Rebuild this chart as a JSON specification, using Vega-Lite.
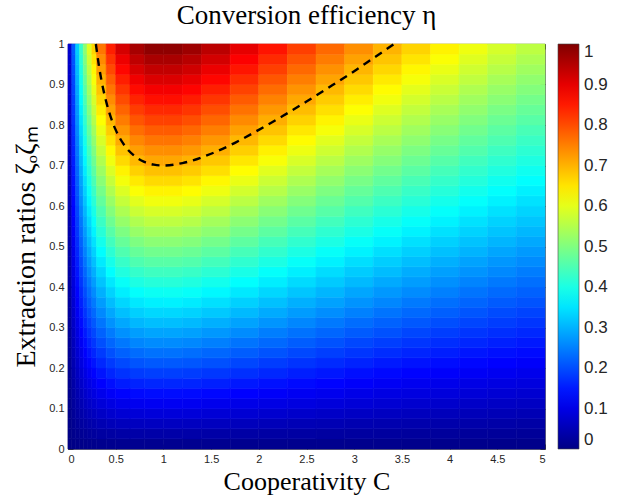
{
  "$schema": "https://vega.github.io/schema/vega-lite/v6.json",
  "width": 477,
  "height": 405,
  "autosize": {"type": "none"},
  "padding": {"left": 68, "top": 44, "right": 73, "bottom": 53},
  "background": "white",
  "view": {"stroke": "#262626", "strokeWidth": 0.8},
  "title": {"text": "Conversion efficiency η", "font": "Liberation Serif", "fontSize": 27, "fontWeight": "normal", "color": "black", "offset": 8, "anchor": "middle"},
  "config": {
    "axis": {"labelFont": "Liberation Sans", "labelFontSize": 11, "labelColor": "#262626", "domain": false, "grid": false, "tickColor": "#262626", "tickSize": -5, "tickWidth": 0.8, "titleFont": "Liberation Serif", "titleFontWeight": "normal", "titleColor": "black"},
    "legend": {"labelFont": "Liberation Sans", "labelFontSize": 17, "labelColor": "#262626"}
  },
  "datasets": {
    "grid": [
{"c":0,"c2":0.04,"z":0,"z2":0.025,"eta":0.001},{"c":0,"c2":0.04,"z":0.025,"z2":0.05,"eta":0.003},{"c":0,"c2":0.04,"z":0.05,"z2":0.075,"eta":0.005},{"c":0,"c2":0.04,"z":0.075,"z2":0.1,"eta":0.007},{"c":0,"c2":0.04,"z":0.1,"z2":0.125,"eta":0.009},{"c":0,"c2":0.04,"z":0.125,"z2":0.15,"eta":0.011},{"c":0,"c2":0.04,"z":0.15,"z2":0.175,"eta":0.012},{"c":0,"c2":0.04,"z":0.175,"z2":0.2,"eta":0.014},{"c":0,"c2":0.04,"z":0.2,"z2":0.225,"eta":0.016},{"c":0,"c2":0.04,"z":0.225,"z2":0.25,"eta":0.018},{"c":0,"c2":0.04,"z":0.25,"z2":0.275,"eta":0.02},{"c":0,"c2":0.04,"z":0.275,"z2":0.3,"eta":0.022},{"c":0,"c2":0.04,"z":0.3,"z2":0.325,"eta":0.024},{"c":0,"c2":0.04,"z":0.325,"z2":0.35,"eta":0.026},{"c":0,"c2":0.04,"z":0.35,"z2":0.375,"eta":0.028},{"c":0,"c2":0.04,"z":0.375,"z2":0.4,"eta":0.03},{"c":0,"c2":0.04,"z":0.4,"z2":0.425,"eta":0.032},{"c":0,"c2":0.04,"z":0.425,"z2":0.45,"eta":0.034},{"c":0,"c2":0.04,"z":0.45,"z2":0.475,"eta":0.036},{"c":0,"c2":0.04,"z":0.475,"z2":0.5,"eta":0.037},{"c":0,"c2":0.04,"z":0.5,"z2":0.525,"eta":0.039},{"c":0,"c2":0.04,"z":0.525,"z2":0.55,"eta":0.041},{"c":0,"c2":0.04,"z":0.55,"z2":0.575,"eta":0.043},{"c":0,"c2":0.04,"z":0.575,"z2":0.6,"eta":0.045},{"c":0,"c2":0.04,"z":0.6,"z2":0.625,"eta":0.047},{"c":0,"c2":0.04,"z":0.625,"z2":0.65,"eta":0.049},{"c":0,"c2":0.04,"z":0.65,"z2":0.675,"eta":0.051},{"c":0,"c2":0.04,"z":0.675,"z2":0.7,"eta":0.053},{"c":0,"c2":0.04,"z":0.7,"z2":0.725,"eta":0.055},{"c":0,"c2":0.04,"z":0.725,"z2":0.75,"eta":0.057},{"c":0,"c2":0.04,"z":0.75,"z2":0.775,"eta":0.059},{"c":0,"c2":0.04,"z":0.775,"z2":0.8,"eta":0.061},{"c":0,"c2":0.04,"z":0.8,"z2":0.825,"eta":0.062},{"c":0,"c2":0.04,"z":0.825,"z2":0.85,"eta":0.064},{"c":0,"c2":0.04,"z":0.85,"z2":0.875,"eta":0.066},{"c":0,"c2":0.04,"z":0.875,"z2":0.9,"eta":0.068},{"c":0,"c2":0.04,"z":0.9,"z2":0.925,"eta":0.07},{"c":0,"c2":0.04,"z":0.925,"z2":0.95,"eta":0.072},{"c":0,"c2":0.04,"z":0.95,"z2":0.975,"eta":0.074},{"c":0,"c2":0.04,"z":0.975,"z2":1,"eta":0.076},
{"c":0.04,"c2":0.08,"z":0,"z2":0.025,"eta":0.003},{"c":0.04,"c2":0.08,"z":0.025,"z2":0.05,"eta":0.008},{"c":0.04,"c2":0.08,"z":0.05,"z2":0.075,"eta":0.013},{"c":0.04,"c2":0.08,"z":0.075,"z2":0.1,"eta":0.019},{"c":0.04,"c2":0.08,"z":0.1,"z2":0.125,"eta":0.024},{"c":0.04,"c2":0.08,"z":0.125,"z2":0.15,"eta":0.029},{"c":0.04,"c2":0.08,"z":0.15,"z2":0.175,"eta":0.035},{"c":0.04,"c2":0.08,"z":0.175,"z2":0.2,"eta":0.04},{"c":0.04,"c2":0.08,"z":0.2,"z2":0.225,"eta":0.045},{"c":0.04,"c2":0.08,"z":0.225,"z2":0.25,"eta":0.051},{"c":0.04,"c2":0.08,"z":0.25,"z2":0.275,"eta":0.056},{"c":0.04,"c2":0.08,"z":0.275,"z2":0.3,"eta":0.061},{"c":0.04,"c2":0.08,"z":0.3,"z2":0.325,"eta":0.067},{"c":0.04,"c2":0.08,"z":0.325,"z2":0.35,"eta":0.072},{"c":0.04,"c2":0.08,"z":0.35,"z2":0.375,"eta":0.077},{"c":0.04,"c2":0.08,"z":0.375,"z2":0.4,"eta":0.083},{"c":0.04,"c2":0.08,"z":0.4,"z2":0.425,"eta":0.088},{"c":0.04,"c2":0.08,"z":0.425,"z2":0.45,"eta":0.093},{"c":0.04,"c2":0.08,"z":0.45,"z2":0.475,"eta":0.099},{"c":0.04,"c2":0.08,"z":0.475,"z2":0.5,"eta":0.104},{"c":0.04,"c2":0.08,"z":0.5,"z2":0.525,"eta":0.109},{"c":0.04,"c2":0.08,"z":0.525,"z2":0.55,"eta":0.115},{"c":0.04,"c2":0.08,"z":0.55,"z2":0.575,"eta":0.12},{"c":0.04,"c2":0.08,"z":0.575,"z2":0.6,"eta":0.125},{"c":0.04,"c2":0.08,"z":0.6,"z2":0.625,"eta":0.131},{"c":0.04,"c2":0.08,"z":0.625,"z2":0.65,"eta":0.136},{"c":0.04,"c2":0.08,"z":0.65,"z2":0.675,"eta":0.142},{"c":0.04,"c2":0.08,"z":0.675,"z2":0.7,"eta":0.147},{"c":0.04,"c2":0.08,"z":0.7,"z2":0.725,"eta":0.152},{"c":0.04,"c2":0.08,"z":0.725,"z2":0.75,"eta":0.158},{"c":0.04,"c2":0.08,"z":0.75,"z2":0.775,"eta":0.163},{"c":0.04,"c2":0.08,"z":0.775,"z2":0.8,"eta":0.168},{"c":0.04,"c2":0.08,"z":0.8,"z2":0.825,"eta":0.174},{"c":0.04,"c2":0.08,"z":0.825,"z2":0.85,"eta":0.179},{"c":0.04,"c2":0.08,"z":0.85,"z2":0.875,"eta":0.184},{"c":0.04,"c2":0.08,"z":0.875,"z2":0.9,"eta":0.19},{"c":0.04,"c2":0.08,"z":0.9,"z2":0.925,"eta":0.195},{"c":0.04,"c2":0.08,"z":0.925,"z2":0.95,"eta":0.2},{"c":0.04,"c2":0.08,"z":0.95,"z2":0.975,"eta":0.206},{"c":0.04,"c2":0.08,"z":0.975,"z2":1,"eta":0.211},
{"c":0.08,"c2":0.12,"z":0,"z2":0.025,"eta":0.004},{"c":0.08,"c2":0.12,"z":0.025,"z2":0.05,"eta":0.012},{"c":0.08,"c2":0.12,"z":0.05,"z2":0.075,"eta":0.021},{"c":0.08,"c2":0.12,"z":0.075,"z2":0.1,"eta":0.029},{"c":0.08,"c2":0.12,"z":0.1,"z2":0.125,"eta":0.037},{"c":0.08,"c2":0.12,"z":0.125,"z2":0.15,"eta":0.045},{"c":0.08,"c2":0.12,"z":0.15,"z2":0.175,"eta":0.054},{"c":0.08,"c2":0.12,"z":0.175,"z2":0.2,"eta":0.062},{"c":0.08,"c2":0.12,"z":0.2,"z2":0.225,"eta":0.07},{"c":0.08,"c2":0.12,"z":0.225,"z2":0.25,"eta":0.079},{"c":0.08,"c2":0.12,"z":0.25,"z2":0.275,"eta":0.087},{"c":0.08,"c2":0.12,"z":0.275,"z2":0.3,"eta":0.095},{"c":0.08,"c2":0.12,"z":0.3,"z2":0.325,"eta":0.103},{"c":0.08,"c2":0.12,"z":0.325,"z2":0.35,"eta":0.112},{"c":0.08,"c2":0.12,"z":0.35,"z2":0.375,"eta":0.12},{"c":0.08,"c2":0.12,"z":0.375,"z2":0.4,"eta":0.128},{"c":0.08,"c2":0.12,"z":0.4,"z2":0.425,"eta":0.136},{"c":0.08,"c2":0.12,"z":0.425,"z2":0.45,"eta":0.145},{"c":0.08,"c2":0.12,"z":0.45,"z2":0.475,"eta":0.153},{"c":0.08,"c2":0.12,"z":0.475,"z2":0.5,"eta":0.161},{"c":0.08,"c2":0.12,"z":0.5,"z2":0.525,"eta":0.169},{"c":0.08,"c2":0.12,"z":0.525,"z2":0.55,"eta":0.178},{"c":0.08,"c2":0.12,"z":0.55,"z2":0.575,"eta":0.186},{"c":0.08,"c2":0.12,"z":0.575,"z2":0.6,"eta":0.194},{"c":0.08,"c2":0.12,"z":0.6,"z2":0.625,"eta":0.202},{"c":0.08,"c2":0.12,"z":0.625,"z2":0.65,"eta":0.211},{"c":0.08,"c2":0.12,"z":0.65,"z2":0.675,"eta":0.219},{"c":0.08,"c2":0.12,"z":0.675,"z2":0.7,"eta":0.227},{"c":0.08,"c2":0.12,"z":0.7,"z2":0.725,"eta":0.236},{"c":0.08,"c2":0.12,"z":0.725,"z2":0.75,"eta":0.244},{"c":0.08,"c2":0.12,"z":0.75,"z2":0.775,"eta":0.252},{"c":0.08,"c2":0.12,"z":0.775,"z2":0.8,"eta":0.26},{"c":0.08,"c2":0.12,"z":0.8,"z2":0.825,"eta":0.269},{"c":0.08,"c2":0.12,"z":0.825,"z2":0.85,"eta":0.277},{"c":0.08,"c2":0.12,"z":0.85,"z2":0.875,"eta":0.285},{"c":0.08,"c2":0.12,"z":0.875,"z2":0.9,"eta":0.293},{"c":0.08,"c2":0.12,"z":0.9,"z2":0.925,"eta":0.302},{"c":0.08,"c2":0.12,"z":0.925,"z2":0.95,"eta":0.31},{"c":0.08,"c2":0.12,"z":0.95,"z2":0.975,"eta":0.318},{"c":0.08,"c2":0.12,"z":0.975,"z2":1,"eta":0.326},
{"c":0.12,"c2":0.16,"z":0,"z2":0.025,"eta":0.005},{"c":0.12,"c2":0.16,"z":0.025,"z2":0.05,"eta":0.016},{"c":0.12,"c2":0.16,"z":0.05,"z2":0.075,"eta":0.027},{"c":0.12,"c2":0.16,"z":0.075,"z2":0.1,"eta":0.038},{"c":0.12,"c2":0.16,"z":0.1,"z2":0.125,"eta":0.048},{"c":0.12,"c2":0.16,"z":0.125,"z2":0.15,"eta":0.059},{"c":0.12,"c2":0.16,"z":0.15,"z2":0.175,"eta":0.07},{"c":0.12,"c2":0.16,"z":0.175,"z2":0.2,"eta":0.081},{"c":0.12,"c2":0.16,"z":0.2,"z2":0.225,"eta":0.092},{"c":0.12,"c2":0.16,"z":0.225,"z2":0.25,"eta":0.102},{"c":0.12,"c2":0.16,"z":0.25,"z2":0.275,"eta":0.113},{"c":0.12,"c2":0.16,"z":0.275,"z2":0.3,"eta":0.124},{"c":0.12,"c2":0.16,"z":0.3,"z2":0.325,"eta":0.135},{"c":0.12,"c2":0.16,"z":0.325,"z2":0.35,"eta":0.145},{"c":0.12,"c2":0.16,"z":0.35,"z2":0.375,"eta":0.156},{"c":0.12,"c2":0.16,"z":0.375,"z2":0.4,"eta":0.167},{"c":0.12,"c2":0.16,"z":0.4,"z2":0.425,"eta":0.178},{"c":0.12,"c2":0.16,"z":0.425,"z2":0.45,"eta":0.189},{"c":0.12,"c2":0.16,"z":0.45,"z2":0.475,"eta":0.199},{"c":0.12,"c2":0.16,"z":0.475,"z2":0.5,"eta":0.21},{"c":0.12,"c2":0.16,"z":0.5,"z2":0.525,"eta":0.221},{"c":0.12,"c2":0.16,"z":0.525,"z2":0.55,"eta":0.232},{"c":0.12,"c2":0.16,"z":0.55,"z2":0.575,"eta":0.242},{"c":0.12,"c2":0.16,"z":0.575,"z2":0.6,"eta":0.253},{"c":0.12,"c2":0.16,"z":0.6,"z2":0.625,"eta":0.264},{"c":0.12,"c2":0.16,"z":0.625,"z2":0.65,"eta":0.275},{"c":0.12,"c2":0.16,"z":0.65,"z2":0.675,"eta":0.285},{"c":0.12,"c2":0.16,"z":0.675,"z2":0.7,"eta":0.296},{"c":0.12,"c2":0.16,"z":0.7,"z2":0.725,"eta":0.307},{"c":0.12,"c2":0.16,"z":0.725,"z2":0.75,"eta":0.318},{"c":0.12,"c2":0.16,"z":0.75,"z2":0.775,"eta":0.329},{"c":0.12,"c2":0.16,"z":0.775,"z2":0.8,"eta":0.339},{"c":0.12,"c2":0.16,"z":0.8,"z2":0.825,"eta":0.35},{"c":0.12,"c2":0.16,"z":0.825,"z2":0.85,"eta":0.361},{"c":0.12,"c2":0.16,"z":0.85,"z2":0.875,"eta":0.372},{"c":0.12,"c2":0.16,"z":0.875,"z2":0.9,"eta":0.382},{"c":0.12,"c2":0.16,"z":0.9,"z2":0.925,"eta":0.393},{"c":0.12,"c2":0.16,"z":0.925,"z2":0.95,"eta":0.404},{"c":0.12,"c2":0.16,"z":0.95,"z2":0.975,"eta":0.415},{"c":0.12,"c2":0.16,"z":0.975,"z2":1,"eta":0.426},
{"c":0.16,"c2":0.2,"z":0,"z2":0.025,"eta":0.006},{"c":0.16,"c2":0.2,"z":0.025,"z2":0.05,"eta":0.019},{"c":0.16,"c2":0.2,"z":0.05,"z2":0.075,"eta":0.032},{"c":0.16,"c2":0.2,"z":0.075,"z2":0.1,"eta":0.045},{"c":0.16,"c2":0.2,"z":0.1,"z2":0.125,"eta":0.058},{"c":0.16,"c2":0.2,"z":0.125,"z2":0.15,"eta":0.071},{"c":0.16,"c2":0.2,"z":0.15,"z2":0.175,"eta":0.084},{"c":0.16,"c2":0.2,"z":0.175,"z2":0.2,"eta":0.097},{"c":0.16,"c2":0.2,"z":0.2,"z2":0.225,"eta":0.11},{"c":0.16,"c2":0.2,"z":0.225,"z2":0.25,"eta":0.123},{"c":0.16,"c2":0.2,"z":0.25,"z2":0.275,"eta":0.136},{"c":0.16,"c2":0.2,"z":0.275,"z2":0.3,"eta":0.149},{"c":0.16,"c2":0.2,"z":0.3,"z2":0.325,"eta":0.162},{"c":0.16,"c2":0.2,"z":0.325,"z2":0.35,"eta":0.175},{"c":0.16,"c2":0.2,"z":0.35,"z2":0.375,"eta":0.187},{"c":0.16,"c2":0.2,"z":0.375,"z2":0.4,"eta":0.2},{"c":0.16,"c2":0.2,"z":0.4,"z2":0.425,"eta":0.213},{"c":0.16,"c2":0.2,"z":0.425,"z2":0.45,"eta":0.226},{"c":0.16,"c2":0.2,"z":0.45,"z2":0.475,"eta":0.239},{"c":0.16,"c2":0.2,"z":0.475,"z2":0.5,"eta":0.252},{"c":0.16,"c2":0.2,"z":0.5,"z2":0.525,"eta":0.265},{"c":0.16,"c2":0.2,"z":0.525,"z2":0.55,"eta":0.278},{"c":0.16,"c2":0.2,"z":0.55,"z2":0.575,"eta":0.291},{"c":0.16,"c2":0.2,"z":0.575,"z2":0.6,"eta":0.304},{"c":0.16,"c2":0.2,"z":0.6,"z2":0.625,"eta":0.317},{"c":0.16,"c2":0.2,"z":0.625,"z2":0.65,"eta":0.33},{"c":0.16,"c2":0.2,"z":0.65,"z2":0.675,"eta":0.343},{"c":0.16,"c2":0.2,"z":0.675,"z2":0.7,"eta":0.356},{"c":0.16,"c2":0.2,"z":0.7,"z2":0.725,"eta":0.368},{"c":0.16,"c2":0.2,"z":0.725,"z2":0.75,"eta":0.381},{"c":0.16,"c2":0.2,"z":0.75,"z2":0.775,"eta":0.394},{"c":0.16,"c2":0.2,"z":0.775,"z2":0.8,"eta":0.407},{"c":0.16,"c2":0.2,"z":0.8,"z2":0.825,"eta":0.42},{"c":0.16,"c2":0.2,"z":0.825,"z2":0.85,"eta":0.433},{"c":0.16,"c2":0.2,"z":0.85,"z2":0.875,"eta":0.446},{"c":0.16,"c2":0.2,"z":0.875,"z2":0.9,"eta":0.459},{"c":0.16,"c2":0.2,"z":0.9,"z2":0.925,"eta":0.472},{"c":0.16,"c2":0.2,"z":0.925,"z2":0.95,"eta":0.485},{"c":0.16,"c2":0.2,"z":0.95,"z2":0.975,"eta":0.498},{"c":0.16,"c2":0.2,"z":0.975,"z2":1,"eta":0.511},
{"c":0.2,"c2":0.25,"z":0,"z2":0.025,"eta":0.008},{"c":0.2,"c2":0.25,"z":0.025,"z2":0.05,"eta":0.023},{"c":0.2,"c2":0.25,"z":0.05,"z2":0.075,"eta":0.038},{"c":0.2,"c2":0.25,"z":0.075,"z2":0.1,"eta":0.053},{"c":0.2,"c2":0.25,"z":0.1,"z2":0.125,"eta":0.068},{"c":0.2,"c2":0.25,"z":0.125,"z2":0.15,"eta":0.083},{"c":0.2,"c2":0.25,"z":0.15,"z2":0.175,"eta":0.098},{"c":0.2,"c2":0.25,"z":0.175,"z2":0.2,"eta":0.113},{"c":0.2,"c2":0.25,"z":0.2,"z2":0.225,"eta":0.128},{"c":0.2,"c2":0.25,"z":0.225,"z2":0.25,"eta":0.143},{"c":0.2,"c2":0.25,"z":0.25,"z2":0.275,"eta":0.158},{"c":0.2,"c2":0.25,"z":0.275,"z2":0.3,"eta":0.173},{"c":0.2,"c2":0.25,"z":0.3,"z2":0.325,"eta":0.188},{"c":0.2,"c2":0.25,"z":0.325,"z2":0.35,"eta":0.203},{"c":0.2,"c2":0.25,"z":0.35,"z2":0.375,"eta":0.218},{"c":0.2,"c2":0.25,"z":0.375,"z2":0.4,"eta":0.233},{"c":0.2,"c2":0.25,"z":0.4,"z2":0.425,"eta":0.248},{"c":0.2,"c2":0.25,"z":0.425,"z2":0.45,"eta":0.263},{"c":0.2,"c2":0.25,"z":0.45,"z2":0.475,"eta":0.278},{"c":0.2,"c2":0.25,"z":0.475,"z2":0.5,"eta":0.293},{"c":0.2,"c2":0.25,"z":0.5,"z2":0.525,"eta":0.308},{"c":0.2,"c2":0.25,"z":0.525,"z2":0.55,"eta":0.323},{"c":0.2,"c2":0.25,"z":0.55,"z2":0.575,"eta":0.338},{"c":0.2,"c2":0.25,"z":0.575,"z2":0.6,"eta":0.353},{"c":0.2,"c2":0.25,"z":0.6,"z2":0.625,"eta":0.368},{"c":0.2,"c2":0.25,"z":0.625,"z2":0.65,"eta":0.383},{"c":0.2,"c2":0.25,"z":0.65,"z2":0.675,"eta":0.398},{"c":0.2,"c2":0.25,"z":0.675,"z2":0.7,"eta":0.413},{"c":0.2,"c2":0.25,"z":0.7,"z2":0.725,"eta":0.428},{"c":0.2,"c2":0.25,"z":0.725,"z2":0.75,"eta":0.443},{"c":0.2,"c2":0.25,"z":0.75,"z2":0.775,"eta":0.458},{"c":0.2,"c2":0.25,"z":0.775,"z2":0.8,"eta":0.473},{"c":0.2,"c2":0.25,"z":0.8,"z2":0.825,"eta":0.488},{"c":0.2,"c2":0.25,"z":0.825,"z2":0.85,"eta":0.503},{"c":0.2,"c2":0.25,"z":0.85,"z2":0.875,"eta":0.518},{"c":0.2,"c2":0.25,"z":0.875,"z2":0.9,"eta":0.533},{"c":0.2,"c2":0.25,"z":0.9,"z2":0.925,"eta":0.548},{"c":0.2,"c2":0.25,"z":0.925,"z2":0.95,"eta":0.563},{"c":0.2,"c2":0.25,"z":0.95,"z2":0.975,"eta":0.578},{"c":0.2,"c2":0.25,"z":0.975,"z2":1,"eta":0.593},
{"c":0.25,"c2":0.3,"z":0,"z2":0.025,"eta":0.008},{"c":0.25,"c2":0.3,"z":0.025,"z2":0.05,"eta":0.025},{"c":0.25,"c2":0.3,"z":0.05,"z2":0.075,"eta":0.042},{"c":0.25,"c2":0.3,"z":0.075,"z2":0.1,"eta":0.059},{"c":0.25,"c2":0.3,"z":0.1,"z2":0.125,"eta":0.076},{"c":0.25,"c2":0.3,"z":0.125,"z2":0.15,"eta":0.093},{"c":0.25,"c2":0.3,"z":0.15,"z2":0.175,"eta":0.11},{"c":0.25,"c2":0.3,"z":0.175,"z2":0.2,"eta":0.127},{"c":0.25,"c2":0.3,"z":0.2,"z2":0.225,"eta":0.144},{"c":0.25,"c2":0.3,"z":0.225,"z2":0.25,"eta":0.161},{"c":0.25,"c2":0.3,"z":0.25,"z2":0.275,"eta":0.178},{"c":0.25,"c2":0.3,"z":0.275,"z2":0.3,"eta":0.195},{"c":0.25,"c2":0.3,"z":0.3,"z2":0.325,"eta":0.211},{"c":0.25,"c2":0.3,"z":0.325,"z2":0.35,"eta":0.228},{"c":0.25,"c2":0.3,"z":0.35,"z2":0.375,"eta":0.245},{"c":0.25,"c2":0.3,"z":0.375,"z2":0.4,"eta":0.262},{"c":0.25,"c2":0.3,"z":0.4,"z2":0.425,"eta":0.279},{"c":0.25,"c2":0.3,"z":0.425,"z2":0.45,"eta":0.296},{"c":0.25,"c2":0.3,"z":0.45,"z2":0.475,"eta":0.313},{"c":0.25,"c2":0.3,"z":0.475,"z2":0.5,"eta":0.33},{"c":0.25,"c2":0.3,"z":0.5,"z2":0.525,"eta":0.347},{"c":0.25,"c2":0.3,"z":0.525,"z2":0.55,"eta":0.364},{"c":0.25,"c2":0.3,"z":0.55,"z2":0.575,"eta":0.381},{"c":0.25,"c2":0.3,"z":0.575,"z2":0.6,"eta":0.398},{"c":0.25,"c2":0.3,"z":0.6,"z2":0.625,"eta":0.414},{"c":0.25,"c2":0.3,"z":0.625,"z2":0.65,"eta":0.431},{"c":0.25,"c2":0.3,"z":0.65,"z2":0.675,"eta":0.448},{"c":0.25,"c2":0.3,"z":0.675,"z2":0.7,"eta":0.465},{"c":0.25,"c2":0.3,"z":0.7,"z2":0.725,"eta":0.482},{"c":0.25,"c2":0.3,"z":0.725,"z2":0.75,"eta":0.499},{"c":0.25,"c2":0.3,"z":0.75,"z2":0.775,"eta":0.516},{"c":0.25,"c2":0.3,"z":0.775,"z2":0.8,"eta":0.533},{"c":0.25,"c2":0.3,"z":0.8,"z2":0.825,"eta":0.55},{"c":0.25,"c2":0.3,"z":0.825,"z2":0.85,"eta":0.567},{"c":0.25,"c2":0.3,"z":0.85,"z2":0.875,"eta":0.584},{"c":0.25,"c2":0.3,"z":0.875,"z2":0.9,"eta":0.601},{"c":0.25,"c2":0.3,"z":0.9,"z2":0.925,"eta":0.617},{"c":0.25,"c2":0.3,"z":0.925,"z2":0.95,"eta":0.634},{"c":0.25,"c2":0.3,"z":0.95,"z2":0.975,"eta":0.651},{"c":0.25,"c2":0.3,"z":0.975,"z2":1,"eta":0.668},
{"c":0.3,"c2":0.4,"z":0,"z2":0.025,"eta":0.01},{"c":0.3,"c2":0.4,"z":0.025,"z2":0.05,"eta":0.029},{"c":0.3,"c2":0.4,"z":0.05,"z2":0.075,"eta":0.048},{"c":0.3,"c2":0.4,"z":0.075,"z2":0.1,"eta":0.067},{"c":0.3,"c2":0.4,"z":0.1,"z2":0.125,"eta":0.086},{"c":0.3,"c2":0.4,"z":0.125,"z2":0.15,"eta":0.106},{"c":0.3,"c2":0.4,"z":0.15,"z2":0.175,"eta":0.125},{"c":0.3,"c2":0.4,"z":0.175,"z2":0.2,"eta":0.144},{"c":0.3,"c2":0.4,"z":0.2,"z2":0.225,"eta":0.163},{"c":0.3,"c2":0.4,"z":0.225,"z2":0.25,"eta":0.182},{"c":0.3,"c2":0.4,"z":0.25,"z2":0.275,"eta":0.202},{"c":0.3,"c2":0.4,"z":0.275,"z2":0.3,"eta":0.221},{"c":0.3,"c2":0.4,"z":0.3,"z2":0.325,"eta":0.24},{"c":0.3,"c2":0.4,"z":0.325,"z2":0.35,"eta":0.259},{"c":0.3,"c2":0.4,"z":0.35,"z2":0.375,"eta":0.278},{"c":0.3,"c2":0.4,"z":0.375,"z2":0.4,"eta":0.298},{"c":0.3,"c2":0.4,"z":0.4,"z2":0.425,"eta":0.317},{"c":0.3,"c2":0.4,"z":0.425,"z2":0.45,"eta":0.336},{"c":0.3,"c2":0.4,"z":0.45,"z2":0.475,"eta":0.355},{"c":0.3,"c2":0.4,"z":0.475,"z2":0.5,"eta":0.374},{"c":0.3,"c2":0.4,"z":0.5,"z2":0.525,"eta":0.394},{"c":0.3,"c2":0.4,"z":0.525,"z2":0.55,"eta":0.413},{"c":0.3,"c2":0.4,"z":0.55,"z2":0.575,"eta":0.432},{"c":0.3,"c2":0.4,"z":0.575,"z2":0.6,"eta":0.451},{"c":0.3,"c2":0.4,"z":0.6,"z2":0.625,"eta":0.471},{"c":0.3,"c2":0.4,"z":0.625,"z2":0.65,"eta":0.49},{"c":0.3,"c2":0.4,"z":0.65,"z2":0.675,"eta":0.509},{"c":0.3,"c2":0.4,"z":0.675,"z2":0.7,"eta":0.528},{"c":0.3,"c2":0.4,"z":0.7,"z2":0.725,"eta":0.547},{"c":0.3,"c2":0.4,"z":0.725,"z2":0.75,"eta":0.567},{"c":0.3,"c2":0.4,"z":0.75,"z2":0.775,"eta":0.586},{"c":0.3,"c2":0.4,"z":0.775,"z2":0.8,"eta":0.605},{"c":0.3,"c2":0.4,"z":0.8,"z2":0.825,"eta":0.624},{"c":0.3,"c2":0.4,"z":0.825,"z2":0.85,"eta":0.643},{"c":0.3,"c2":0.4,"z":0.85,"z2":0.875,"eta":0.663},{"c":0.3,"c2":0.4,"z":0.875,"z2":0.9,"eta":0.682},{"c":0.3,"c2":0.4,"z":0.9,"z2":0.925,"eta":0.701},{"c":0.3,"c2":0.4,"z":0.925,"z2":0.95,"eta":0.72},{"c":0.3,"c2":0.4,"z":0.95,"z2":0.975,"eta":0.739},{"c":0.3,"c2":0.4,"z":0.975,"z2":1,"eta":0.759},
{"c":0.4,"c2":0.5,"z":0,"z2":0.025,"eta":0.011},{"c":0.4,"c2":0.5,"z":0.025,"z2":0.05,"eta":0.032},{"c":0.4,"c2":0.5,"z":0.05,"z2":0.075,"eta":0.054},{"c":0.4,"c2":0.5,"z":0.075,"z2":0.1,"eta":0.075},{"c":0.4,"c2":0.5,"z":0.1,"z2":0.125,"eta":0.096},{"c":0.4,"c2":0.5,"z":0.125,"z2":0.15,"eta":0.118},{"c":0.4,"c2":0.5,"z":0.15,"z2":0.175,"eta":0.139},{"c":0.4,"c2":0.5,"z":0.175,"z2":0.2,"eta":0.161},{"c":0.4,"c2":0.5,"z":0.2,"z2":0.225,"eta":0.182},{"c":0.4,"c2":0.5,"z":0.225,"z2":0.25,"eta":0.203},{"c":0.4,"c2":0.5,"z":0.25,"z2":0.275,"eta":0.225},{"c":0.4,"c2":0.5,"z":0.275,"z2":0.3,"eta":0.246},{"c":0.4,"c2":0.5,"z":0.3,"z2":0.325,"eta":0.268},{"c":0.4,"c2":0.5,"z":0.325,"z2":0.35,"eta":0.289},{"c":0.4,"c2":0.5,"z":0.35,"z2":0.375,"eta":0.31},{"c":0.4,"c2":0.5,"z":0.375,"z2":0.4,"eta":0.332},{"c":0.4,"c2":0.5,"z":0.4,"z2":0.425,"eta":0.353},{"c":0.4,"c2":0.5,"z":0.425,"z2":0.45,"eta":0.375},{"c":0.4,"c2":0.5,"z":0.45,"z2":0.475,"eta":0.396},{"c":0.4,"c2":0.5,"z":0.475,"z2":0.5,"eta":0.417},{"c":0.4,"c2":0.5,"z":0.5,"z2":0.525,"eta":0.439},{"c":0.4,"c2":0.5,"z":0.525,"z2":0.55,"eta":0.46},{"c":0.4,"c2":0.5,"z":0.55,"z2":0.575,"eta":0.482},{"c":0.4,"c2":0.5,"z":0.575,"z2":0.6,"eta":0.503},{"c":0.4,"c2":0.5,"z":0.6,"z2":0.625,"eta":0.524},{"c":0.4,"c2":0.5,"z":0.625,"z2":0.65,"eta":0.546},{"c":0.4,"c2":0.5,"z":0.65,"z2":0.675,"eta":0.567},{"c":0.4,"c2":0.5,"z":0.675,"z2":0.7,"eta":0.589},{"c":0.4,"c2":0.5,"z":0.7,"z2":0.725,"eta":0.61},{"c":0.4,"c2":0.5,"z":0.725,"z2":0.75,"eta":0.631},{"c":0.4,"c2":0.5,"z":0.75,"z2":0.775,"eta":0.653},{"c":0.4,"c2":0.5,"z":0.775,"z2":0.8,"eta":0.674},{"c":0.4,"c2":0.5,"z":0.8,"z2":0.825,"eta":0.696},{"c":0.4,"c2":0.5,"z":0.825,"z2":0.85,"eta":0.717},{"c":0.4,"c2":0.5,"z":0.85,"z2":0.875,"eta":0.738},{"c":0.4,"c2":0.5,"z":0.875,"z2":0.9,"eta":0.76},{"c":0.4,"c2":0.5,"z":0.9,"z2":0.925,"eta":0.781},{"c":0.4,"c2":0.5,"z":0.925,"z2":0.95,"eta":0.803},{"c":0.4,"c2":0.5,"z":0.95,"z2":0.975,"eta":0.824},{"c":0.4,"c2":0.5,"z":0.975,"z2":1,"eta":0.845},
{"c":0.5,"c2":0.65,"z":0,"z2":0.025,"eta":0.012},{"c":0.5,"c2":0.65,"z":0.025,"z2":0.05,"eta":0.035},{"c":0.5,"c2":0.65,"z":0.05,"z2":0.075,"eta":0.058},{"c":0.5,"c2":0.65,"z":0.075,"z2":0.1,"eta":0.081},{"c":0.5,"c2":0.65,"z":0.1,"z2":0.125,"eta":0.104},{"c":0.5,"c2":0.65,"z":0.125,"z2":0.15,"eta":0.127},{"c":0.5,"c2":0.65,"z":0.15,"z2":0.175,"eta":0.151},{"c":0.5,"c2":0.65,"z":0.175,"z2":0.2,"eta":0.174},{"c":0.5,"c2":0.65,"z":0.2,"z2":0.225,"eta":0.197},{"c":0.5,"c2":0.65,"z":0.225,"z2":0.25,"eta":0.22},{"c":0.5,"c2":0.65,"z":0.25,"z2":0.275,"eta":0.243},{"c":0.5,"c2":0.65,"z":0.275,"z2":0.3,"eta":0.267},{"c":0.5,"c2":0.65,"z":0.3,"z2":0.325,"eta":0.29},{"c":0.5,"c2":0.65,"z":0.325,"z2":0.35,"eta":0.313},{"c":0.5,"c2":0.65,"z":0.35,"z2":0.375,"eta":0.336},{"c":0.5,"c2":0.65,"z":0.375,"z2":0.4,"eta":0.359},{"c":0.5,"c2":0.65,"z":0.4,"z2":0.425,"eta":0.382},{"c":0.5,"c2":0.65,"z":0.425,"z2":0.45,"eta":0.406},{"c":0.5,"c2":0.65,"z":0.45,"z2":0.475,"eta":0.429},{"c":0.5,"c2":0.65,"z":0.475,"z2":0.5,"eta":0.452},{"c":0.5,"c2":0.65,"z":0.5,"z2":0.525,"eta":0.475},{"c":0.5,"c2":0.65,"z":0.525,"z2":0.55,"eta":0.498},{"c":0.5,"c2":0.65,"z":0.55,"z2":0.575,"eta":0.522},{"c":0.5,"c2":0.65,"z":0.575,"z2":0.6,"eta":0.545},{"c":0.5,"c2":0.65,"z":0.6,"z2":0.625,"eta":0.568},{"c":0.5,"c2":0.65,"z":0.625,"z2":0.65,"eta":0.591},{"c":0.5,"c2":0.65,"z":0.65,"z2":0.675,"eta":0.614},{"c":0.5,"c2":0.65,"z":0.675,"z2":0.7,"eta":0.637},{"c":0.5,"c2":0.65,"z":0.7,"z2":0.725,"eta":0.661},{"c":0.5,"c2":0.65,"z":0.725,"z2":0.75,"eta":0.684},{"c":0.5,"c2":0.65,"z":0.75,"z2":0.775,"eta":0.707},{"c":0.5,"c2":0.65,"z":0.775,"z2":0.8,"eta":0.73},{"c":0.5,"c2":0.65,"z":0.8,"z2":0.825,"eta":0.753},{"c":0.5,"c2":0.65,"z":0.825,"z2":0.85,"eta":0.777},{"c":0.5,"c2":0.65,"z":0.85,"z2":0.875,"eta":0.8},{"c":0.5,"c2":0.65,"z":0.875,"z2":0.9,"eta":0.823},{"c":0.5,"c2":0.65,"z":0.9,"z2":0.925,"eta":0.846},{"c":0.5,"c2":0.65,"z":0.925,"z2":0.95,"eta":0.869},{"c":0.5,"c2":0.65,"z":0.95,"z2":0.975,"eta":0.892},{"c":0.5,"c2":0.65,"z":0.975,"z2":1,"eta":0.916},
{"c":0.65,"c2":0.8,"z":0,"z2":0.025,"eta":0.012},{"c":0.65,"c2":0.8,"z":0.025,"z2":0.05,"eta":0.037},{"c":0.65,"c2":0.8,"z":0.05,"z2":0.075,"eta":0.061},{"c":0.65,"c2":0.8,"z":0.075,"z2":0.1,"eta":0.085},{"c":0.65,"c2":0.8,"z":0.1,"z2":0.125,"eta":0.11},{"c":0.65,"c2":0.8,"z":0.125,"z2":0.15,"eta":0.134},{"c":0.65,"c2":0.8,"z":0.15,"z2":0.175,"eta":0.158},{"c":0.65,"c2":0.8,"z":0.175,"z2":0.2,"eta":0.183},{"c":0.65,"c2":0.8,"z":0.2,"z2":0.225,"eta":0.207},{"c":0.65,"c2":0.8,"z":0.225,"z2":0.25,"eta":0.231},{"c":0.65,"c2":0.8,"z":0.25,"z2":0.275,"eta":0.256},{"c":0.65,"c2":0.8,"z":0.275,"z2":0.3,"eta":0.28},{"c":0.65,"c2":0.8,"z":0.3,"z2":0.325,"eta":0.305},{"c":0.65,"c2":0.8,"z":0.325,"z2":0.35,"eta":0.329},{"c":0.65,"c2":0.8,"z":0.35,"z2":0.375,"eta":0.353},{"c":0.65,"c2":0.8,"z":0.375,"z2":0.4,"eta":0.378},{"c":0.65,"c2":0.8,"z":0.4,"z2":0.425,"eta":0.402},{"c":0.65,"c2":0.8,"z":0.425,"z2":0.45,"eta":0.426},{"c":0.65,"c2":0.8,"z":0.45,"z2":0.475,"eta":0.451},{"c":0.65,"c2":0.8,"z":0.475,"z2":0.5,"eta":0.475},{"c":0.65,"c2":0.8,"z":0.5,"z2":0.525,"eta":0.499},{"c":0.65,"c2":0.8,"z":0.525,"z2":0.55,"eta":0.524},{"c":0.65,"c2":0.8,"z":0.55,"z2":0.575,"eta":0.548},{"c":0.65,"c2":0.8,"z":0.575,"z2":0.6,"eta":0.573},{"c":0.65,"c2":0.8,"z":0.6,"z2":0.625,"eta":0.597},{"c":0.65,"c2":0.8,"z":0.625,"z2":0.65,"eta":0.621},{"c":0.65,"c2":0.8,"z":0.65,"z2":0.675,"eta":0.646},{"c":0.65,"c2":0.8,"z":0.675,"z2":0.7,"eta":0.67},{"c":0.65,"c2":0.8,"z":0.7,"z2":0.725,"eta":0.694},{"c":0.65,"c2":0.8,"z":0.725,"z2":0.75,"eta":0.719},{"c":0.65,"c2":0.8,"z":0.75,"z2":0.775,"eta":0.743},{"c":0.65,"c2":0.8,"z":0.775,"z2":0.8,"eta":0.767},{"c":0.65,"c2":0.8,"z":0.8,"z2":0.825,"eta":0.792},{"c":0.65,"c2":0.8,"z":0.825,"z2":0.85,"eta":0.816},{"c":0.65,"c2":0.8,"z":0.85,"z2":0.875,"eta":0.841},{"c":0.65,"c2":0.8,"z":0.875,"z2":0.9,"eta":0.865},{"c":0.65,"c2":0.8,"z":0.9,"z2":0.925,"eta":0.889},{"c":0.65,"c2":0.8,"z":0.925,"z2":0.95,"eta":0.914},{"c":0.65,"c2":0.8,"z":0.95,"z2":0.975,"eta":0.938},{"c":0.65,"c2":0.8,"z":0.975,"z2":1,"eta":0.962},
{"c":0.8,"c2":1,"z":0,"z2":0.025,"eta":0.012},{"c":0.8,"c2":1,"z":0.025,"z2":0.05,"eta":0.037},{"c":0.8,"c2":1,"z":0.05,"z2":0.075,"eta":0.062},{"c":0.8,"c2":1,"z":0.075,"z2":0.1,"eta":0.087},{"c":0.8,"c2":1,"z":0.1,"z2":0.125,"eta":0.112},{"c":0.8,"c2":1,"z":0.125,"z2":0.15,"eta":0.137},{"c":0.8,"c2":1,"z":0.15,"z2":0.175,"eta":0.162},{"c":0.8,"c2":1,"z":0.175,"z2":0.2,"eta":0.187},{"c":0.8,"c2":1,"z":0.2,"z2":0.225,"eta":0.212},{"c":0.8,"c2":1,"z":0.225,"z2":0.25,"eta":0.237},{"c":0.8,"c2":1,"z":0.25,"z2":0.275,"eta":0.262},{"c":0.8,"c2":1,"z":0.275,"z2":0.3,"eta":0.287},{"c":0.8,"c2":1,"z":0.3,"z2":0.325,"eta":0.312},{"c":0.8,"c2":1,"z":0.325,"z2":0.35,"eta":0.337},{"c":0.8,"c2":1,"z":0.35,"z2":0.375,"eta":0.361},{"c":0.8,"c2":1,"z":0.375,"z2":0.4,"eta":0.386},{"c":0.8,"c2":1,"z":0.4,"z2":0.425,"eta":0.411},{"c":0.8,"c2":1,"z":0.425,"z2":0.45,"eta":0.436},{"c":0.8,"c2":1,"z":0.45,"z2":0.475,"eta":0.461},{"c":0.8,"c2":1,"z":0.475,"z2":0.5,"eta":0.486},{"c":0.8,"c2":1,"z":0.5,"z2":0.525,"eta":0.511},{"c":0.8,"c2":1,"z":0.525,"z2":0.55,"eta":0.536},{"c":0.8,"c2":1,"z":0.55,"z2":0.575,"eta":0.561},{"c":0.8,"c2":1,"z":0.575,"z2":0.6,"eta":0.586},{"c":0.8,"c2":1,"z":0.6,"z2":0.625,"eta":0.611},{"c":0.8,"c2":1,"z":0.625,"z2":0.65,"eta":0.636},{"c":0.8,"c2":1,"z":0.65,"z2":0.675,"eta":0.661},{"c":0.8,"c2":1,"z":0.675,"z2":0.7,"eta":0.686},{"c":0.8,"c2":1,"z":0.7,"z2":0.725,"eta":0.711},{"c":0.8,"c2":1,"z":0.725,"z2":0.75,"eta":0.735},{"c":0.8,"c2":1,"z":0.75,"z2":0.775,"eta":0.76},{"c":0.8,"c2":1,"z":0.775,"z2":0.8,"eta":0.785},{"c":0.8,"c2":1,"z":0.8,"z2":0.825,"eta":0.81},{"c":0.8,"c2":1,"z":0.825,"z2":0.85,"eta":0.835},{"c":0.8,"c2":1,"z":0.85,"z2":0.875,"eta":0.86},{"c":0.8,"c2":1,"z":0.875,"z2":0.9,"eta":0.885},{"c":0.8,"c2":1,"z":0.9,"z2":0.925,"eta":0.91},{"c":0.8,"c2":1,"z":0.925,"z2":0.95,"eta":0.935},{"c":0.8,"c2":1,"z":0.95,"z2":0.975,"eta":0.96},{"c":0.8,"c2":1,"z":0.975,"z2":1,"eta":0.985},
{"c":1,"c2":1.2,"z":0,"z2":0.025,"eta":0.012},{"c":1,"c2":1.2,"z":0.025,"z2":0.05,"eta":0.037},{"c":1,"c2":1.2,"z":0.05,"z2":0.075,"eta":0.062},{"c":1,"c2":1.2,"z":0.075,"z2":0.1,"eta":0.087},{"c":1,"c2":1.2,"z":0.1,"z2":0.125,"eta":0.112},{"c":1,"c2":1.2,"z":0.125,"z2":0.15,"eta":0.137},{"c":1,"c2":1.2,"z":0.15,"z2":0.175,"eta":0.162},{"c":1,"c2":1.2,"z":0.175,"z2":0.2,"eta":0.187},{"c":1,"c2":1.2,"z":0.2,"z2":0.225,"eta":0.212},{"c":1,"c2":1.2,"z":0.225,"z2":0.25,"eta":0.237},{"c":1,"c2":1.2,"z":0.25,"z2":0.275,"eta":0.262},{"c":1,"c2":1.2,"z":0.275,"z2":0.3,"eta":0.287},{"c":1,"c2":1.2,"z":0.3,"z2":0.325,"eta":0.312},{"c":1,"c2":1.2,"z":0.325,"z2":0.35,"eta":0.337},{"c":1,"c2":1.2,"z":0.35,"z2":0.375,"eta":0.362},{"c":1,"c2":1.2,"z":0.375,"z2":0.4,"eta":0.387},{"c":1,"c2":1.2,"z":0.4,"z2":0.425,"eta":0.412},{"c":1,"c2":1.2,"z":0.425,"z2":0.45,"eta":0.436},{"c":1,"c2":1.2,"z":0.45,"z2":0.475,"eta":0.461},{"c":1,"c2":1.2,"z":0.475,"z2":0.5,"eta":0.486},{"c":1,"c2":1.2,"z":0.5,"z2":0.525,"eta":0.511},{"c":1,"c2":1.2,"z":0.525,"z2":0.55,"eta":0.536},{"c":1,"c2":1.2,"z":0.55,"z2":0.575,"eta":0.561},{"c":1,"c2":1.2,"z":0.575,"z2":0.6,"eta":0.586},{"c":1,"c2":1.2,"z":0.6,"z2":0.625,"eta":0.611},{"c":1,"c2":1.2,"z":0.625,"z2":0.65,"eta":0.636},{"c":1,"c2":1.2,"z":0.65,"z2":0.675,"eta":0.661},{"c":1,"c2":1.2,"z":0.675,"z2":0.7,"eta":0.686},{"c":1,"c2":1.2,"z":0.7,"z2":0.725,"eta":0.711},{"c":1,"c2":1.2,"z":0.725,"z2":0.75,"eta":0.736},{"c":1,"c2":1.2,"z":0.75,"z2":0.775,"eta":0.761},{"c":1,"c2":1.2,"z":0.775,"z2":0.8,"eta":0.786},{"c":1,"c2":1.2,"z":0.8,"z2":0.825,"eta":0.811},{"c":1,"c2":1.2,"z":0.825,"z2":0.85,"eta":0.836},{"c":1,"c2":1.2,"z":0.85,"z2":0.875,"eta":0.861},{"c":1,"c2":1.2,"z":0.875,"z2":0.9,"eta":0.885},{"c":1,"c2":1.2,"z":0.9,"z2":0.925,"eta":0.91},{"c":1,"c2":1.2,"z":0.925,"z2":0.95,"eta":0.935},{"c":1,"c2":1.2,"z":0.95,"z2":0.975,"eta":0.96},{"c":1,"c2":1.2,"z":0.975,"z2":1,"eta":0.985},
{"c":1.2,"c2":1.4,"z":0,"z2":0.025,"eta":0.012},{"c":1.2,"c2":1.4,"z":0.025,"z2":0.05,"eta":0.037},{"c":1.2,"c2":1.4,"z":0.05,"z2":0.075,"eta":0.061},{"c":1.2,"c2":1.4,"z":0.075,"z2":0.1,"eta":0.086},{"c":1.2,"c2":1.4,"z":0.1,"z2":0.125,"eta":0.111},{"c":1.2,"c2":1.4,"z":0.125,"z2":0.15,"eta":0.135},{"c":1.2,"c2":1.4,"z":0.15,"z2":0.175,"eta":0.16},{"c":1.2,"c2":1.4,"z":0.175,"z2":0.2,"eta":0.184},{"c":1.2,"c2":1.4,"z":0.2,"z2":0.225,"eta":0.209},{"c":1.2,"c2":1.4,"z":0.225,"z2":0.25,"eta":0.233},{"c":1.2,"c2":1.4,"z":0.25,"z2":0.275,"eta":0.258},{"c":1.2,"c2":1.4,"z":0.275,"z2":0.3,"eta":0.283},{"c":1.2,"c2":1.4,"z":0.3,"z2":0.325,"eta":0.307},{"c":1.2,"c2":1.4,"z":0.325,"z2":0.35,"eta":0.332},{"c":1.2,"c2":1.4,"z":0.35,"z2":0.375,"eta":0.356},{"c":1.2,"c2":1.4,"z":0.375,"z2":0.4,"eta":0.381},{"c":1.2,"c2":1.4,"z":0.4,"z2":0.425,"eta":0.405},{"c":1.2,"c2":1.4,"z":0.425,"z2":0.45,"eta":0.43},{"c":1.2,"c2":1.4,"z":0.45,"z2":0.475,"eta":0.455},{"c":1.2,"c2":1.4,"z":0.475,"z2":0.5,"eta":0.479},{"c":1.2,"c2":1.4,"z":0.5,"z2":0.525,"eta":0.504},{"c":1.2,"c2":1.4,"z":0.525,"z2":0.55,"eta":0.528},{"c":1.2,"c2":1.4,"z":0.55,"z2":0.575,"eta":0.553},{"c":1.2,"c2":1.4,"z":0.575,"z2":0.6,"eta":0.578},{"c":1.2,"c2":1.4,"z":0.6,"z2":0.625,"eta":0.602},{"c":1.2,"c2":1.4,"z":0.625,"z2":0.65,"eta":0.627},{"c":1.2,"c2":1.4,"z":0.65,"z2":0.675,"eta":0.651},{"c":1.2,"c2":1.4,"z":0.675,"z2":0.7,"eta":0.676},{"c":1.2,"c2":1.4,"z":0.7,"z2":0.725,"eta":0.7},{"c":1.2,"c2":1.4,"z":0.725,"z2":0.75,"eta":0.725},{"c":1.2,"c2":1.4,"z":0.75,"z2":0.775,"eta":0.75},{"c":1.2,"c2":1.4,"z":0.775,"z2":0.8,"eta":0.774},{"c":1.2,"c2":1.4,"z":0.8,"z2":0.825,"eta":0.799},{"c":1.2,"c2":1.4,"z":0.825,"z2":0.85,"eta":0.823},{"c":1.2,"c2":1.4,"z":0.85,"z2":0.875,"eta":0.848},{"c":1.2,"c2":1.4,"z":0.875,"z2":0.9,"eta":0.872},{"c":1.2,"c2":1.4,"z":0.9,"z2":0.925,"eta":0.897},{"c":1.2,"c2":1.4,"z":0.925,"z2":0.95,"eta":0.922},{"c":1.2,"c2":1.4,"z":0.95,"z2":0.975,"eta":0.946},{"c":1.2,"c2":1.4,"z":0.975,"z2":1,"eta":0.971},
{"c":1.4,"c2":1.7,"z":0,"z2":0.025,"eta":0.012},{"c":1.4,"c2":1.7,"z":0.025,"z2":0.05,"eta":0.036},{"c":1.4,"c2":1.7,"z":0.05,"z2":0.075,"eta":0.06},{"c":1.4,"c2":1.7,"z":0.075,"z2":0.1,"eta":0.083},{"c":1.4,"c2":1.7,"z":0.1,"z2":0.125,"eta":0.107},{"c":1.4,"c2":1.7,"z":0.125,"z2":0.15,"eta":0.131},{"c":1.4,"c2":1.7,"z":0.15,"z2":0.175,"eta":0.155},{"c":1.4,"c2":1.7,"z":0.175,"z2":0.2,"eta":0.179},{"c":1.4,"c2":1.7,"z":0.2,"z2":0.225,"eta":0.203},{"c":1.4,"c2":1.7,"z":0.225,"z2":0.25,"eta":0.226},{"c":1.4,"c2":1.7,"z":0.25,"z2":0.275,"eta":0.25},{"c":1.4,"c2":1.7,"z":0.275,"z2":0.3,"eta":0.274},{"c":1.4,"c2":1.7,"z":0.3,"z2":0.325,"eta":0.298},{"c":1.4,"c2":1.7,"z":0.325,"z2":0.35,"eta":0.322},{"c":1.4,"c2":1.7,"z":0.35,"z2":0.375,"eta":0.346},{"c":1.4,"c2":1.7,"z":0.375,"z2":0.4,"eta":0.369},{"c":1.4,"c2":1.7,"z":0.4,"z2":0.425,"eta":0.393},{"c":1.4,"c2":1.7,"z":0.425,"z2":0.45,"eta":0.417},{"c":1.4,"c2":1.7,"z":0.45,"z2":0.475,"eta":0.441},{"c":1.4,"c2":1.7,"z":0.475,"z2":0.5,"eta":0.465},{"c":1.4,"c2":1.7,"z":0.5,"z2":0.525,"eta":0.489},{"c":1.4,"c2":1.7,"z":0.525,"z2":0.55,"eta":0.513},{"c":1.4,"c2":1.7,"z":0.55,"z2":0.575,"eta":0.536},{"c":1.4,"c2":1.7,"z":0.575,"z2":0.6,"eta":0.56},{"c":1.4,"c2":1.7,"z":0.6,"z2":0.625,"eta":0.584},{"c":1.4,"c2":1.7,"z":0.625,"z2":0.65,"eta":0.608},{"c":1.4,"c2":1.7,"z":0.65,"z2":0.675,"eta":0.632},{"c":1.4,"c2":1.7,"z":0.675,"z2":0.7,"eta":0.656},{"c":1.4,"c2":1.7,"z":0.7,"z2":0.725,"eta":0.679},{"c":1.4,"c2":1.7,"z":0.725,"z2":0.75,"eta":0.703},{"c":1.4,"c2":1.7,"z":0.75,"z2":0.775,"eta":0.727},{"c":1.4,"c2":1.7,"z":0.775,"z2":0.8,"eta":0.751},{"c":1.4,"c2":1.7,"z":0.8,"z2":0.825,"eta":0.775},{"c":1.4,"c2":1.7,"z":0.825,"z2":0.85,"eta":0.799},{"c":1.4,"c2":1.7,"z":0.85,"z2":0.875,"eta":0.822},{"c":1.4,"c2":1.7,"z":0.875,"z2":0.9,"eta":0.846},{"c":1.4,"c2":1.7,"z":0.9,"z2":0.925,"eta":0.87},{"c":1.4,"c2":1.7,"z":0.925,"z2":0.95,"eta":0.894},{"c":1.4,"c2":1.7,"z":0.95,"z2":0.975,"eta":0.918},{"c":1.4,"c2":1.7,"z":0.975,"z2":1,"eta":0.942},
{"c":1.7,"c2":2,"z":0,"z2":0.025,"eta":0.011},{"c":1.7,"c2":2,"z":0.025,"z2":0.05,"eta":0.034},{"c":1.7,"c2":2,"z":0.05,"z2":0.075,"eta":0.057},{"c":1.7,"c2":2,"z":0.075,"z2":0.1,"eta":0.08},{"c":1.7,"c2":2,"z":0.1,"z2":0.125,"eta":0.102},{"c":1.7,"c2":2,"z":0.125,"z2":0.15,"eta":0.125},{"c":1.7,"c2":2,"z":0.15,"z2":0.175,"eta":0.148},{"c":1.7,"c2":2,"z":0.175,"z2":0.2,"eta":0.171},{"c":1.7,"c2":2,"z":0.2,"z2":0.225,"eta":0.194},{"c":1.7,"c2":2,"z":0.225,"z2":0.25,"eta":0.216},{"c":1.7,"c2":2,"z":0.25,"z2":0.275,"eta":0.239},{"c":1.7,"c2":2,"z":0.275,"z2":0.3,"eta":0.262},{"c":1.7,"c2":2,"z":0.3,"z2":0.325,"eta":0.285},{"c":1.7,"c2":2,"z":0.325,"z2":0.35,"eta":0.307},{"c":1.7,"c2":2,"z":0.35,"z2":0.375,"eta":0.33},{"c":1.7,"c2":2,"z":0.375,"z2":0.4,"eta":0.353},{"c":1.7,"c2":2,"z":0.4,"z2":0.425,"eta":0.376},{"c":1.7,"c2":2,"z":0.425,"z2":0.45,"eta":0.399},{"c":1.7,"c2":2,"z":0.45,"z2":0.475,"eta":0.421},{"c":1.7,"c2":2,"z":0.475,"z2":0.5,"eta":0.444},{"c":1.7,"c2":2,"z":0.5,"z2":0.525,"eta":0.467},{"c":1.7,"c2":2,"z":0.525,"z2":0.55,"eta":0.49},{"c":1.7,"c2":2,"z":0.55,"z2":0.575,"eta":0.512},{"c":1.7,"c2":2,"z":0.575,"z2":0.6,"eta":0.535},{"c":1.7,"c2":2,"z":0.6,"z2":0.625,"eta":0.558},{"c":1.7,"c2":2,"z":0.625,"z2":0.65,"eta":0.581},{"c":1.7,"c2":2,"z":0.65,"z2":0.675,"eta":0.604},{"c":1.7,"c2":2,"z":0.675,"z2":0.7,"eta":0.626},{"c":1.7,"c2":2,"z":0.7,"z2":0.725,"eta":0.649},{"c":1.7,"c2":2,"z":0.725,"z2":0.75,"eta":0.672},{"c":1.7,"c2":2,"z":0.75,"z2":0.775,"eta":0.695},{"c":1.7,"c2":2,"z":0.775,"z2":0.8,"eta":0.717},{"c":1.7,"c2":2,"z":0.8,"z2":0.825,"eta":0.74},{"c":1.7,"c2":2,"z":0.825,"z2":0.85,"eta":0.763},{"c":1.7,"c2":2,"z":0.85,"z2":0.875,"eta":0.786},{"c":1.7,"c2":2,"z":0.875,"z2":0.9,"eta":0.809},{"c":1.7,"c2":2,"z":0.9,"z2":0.925,"eta":0.831},{"c":1.7,"c2":2,"z":0.925,"z2":0.95,"eta":0.854},{"c":1.7,"c2":2,"z":0.95,"z2":0.975,"eta":0.877},{"c":1.7,"c2":2,"z":0.975,"z2":1,"eta":0.9},
{"c":2,"c2":2.3,"z":0,"z2":0.025,"eta":0.011},{"c":2,"c2":2.3,"z":0.025,"z2":0.05,"eta":0.033},{"c":2,"c2":2.3,"z":0.05,"z2":0.075,"eta":0.054},{"c":2,"c2":2.3,"z":0.075,"z2":0.1,"eta":0.076},{"c":2,"c2":2.3,"z":0.1,"z2":0.125,"eta":0.098},{"c":2,"c2":2.3,"z":0.125,"z2":0.15,"eta":0.119},{"c":2,"c2":2.3,"z":0.15,"z2":0.175,"eta":0.141},{"c":2,"c2":2.3,"z":0.175,"z2":0.2,"eta":0.163},{"c":2,"c2":2.3,"z":0.2,"z2":0.225,"eta":0.184},{"c":2,"c2":2.3,"z":0.225,"z2":0.25,"eta":0.206},{"c":2,"c2":2.3,"z":0.25,"z2":0.275,"eta":0.228},{"c":2,"c2":2.3,"z":0.275,"z2":0.3,"eta":0.249},{"c":2,"c2":2.3,"z":0.3,"z2":0.325,"eta":0.271},{"c":2,"c2":2.3,"z":0.325,"z2":0.35,"eta":0.293},{"c":2,"c2":2.3,"z":0.35,"z2":0.375,"eta":0.314},{"c":2,"c2":2.3,"z":0.375,"z2":0.4,"eta":0.336},{"c":2,"c2":2.3,"z":0.4,"z2":0.425,"eta":0.358},{"c":2,"c2":2.3,"z":0.425,"z2":0.45,"eta":0.379},{"c":2,"c2":2.3,"z":0.45,"z2":0.475,"eta":0.401},{"c":2,"c2":2.3,"z":0.475,"z2":0.5,"eta":0.423},{"c":2,"c2":2.3,"z":0.5,"z2":0.525,"eta":0.444},{"c":2,"c2":2.3,"z":0.525,"z2":0.55,"eta":0.466},{"c":2,"c2":2.3,"z":0.55,"z2":0.575,"eta":0.488},{"c":2,"c2":2.3,"z":0.575,"z2":0.6,"eta":0.509},{"c":2,"c2":2.3,"z":0.6,"z2":0.625,"eta":0.531},{"c":2,"c2":2.3,"z":0.625,"z2":0.65,"eta":0.553},{"c":2,"c2":2.3,"z":0.65,"z2":0.675,"eta":0.574},{"c":2,"c2":2.3,"z":0.675,"z2":0.7,"eta":0.596},{"c":2,"c2":2.3,"z":0.7,"z2":0.725,"eta":0.618},{"c":2,"c2":2.3,"z":0.725,"z2":0.75,"eta":0.639},{"c":2,"c2":2.3,"z":0.75,"z2":0.775,"eta":0.661},{"c":2,"c2":2.3,"z":0.775,"z2":0.8,"eta":0.683},{"c":2,"c2":2.3,"z":0.8,"z2":0.825,"eta":0.704},{"c":2,"c2":2.3,"z":0.825,"z2":0.85,"eta":0.726},{"c":2,"c2":2.3,"z":0.85,"z2":0.875,"eta":0.748},{"c":2,"c2":2.3,"z":0.875,"z2":0.9,"eta":0.769},{"c":2,"c2":2.3,"z":0.9,"z2":0.925,"eta":0.791},{"c":2,"c2":2.3,"z":0.925,"z2":0.95,"eta":0.813},{"c":2,"c2":2.3,"z":0.95,"z2":0.975,"eta":0.834},{"c":2,"c2":2.3,"z":0.975,"z2":1,"eta":0.856},
{"c":2.3,"c2":2.6,"z":0,"z2":0.025,"eta":0.01},{"c":2.3,"c2":2.6,"z":0.025,"z2":0.05,"eta":0.031},{"c":2.3,"c2":2.6,"z":0.05,"z2":0.075,"eta":0.051},{"c":2.3,"c2":2.6,"z":0.075,"z2":0.1,"eta":0.072},{"c":2.3,"c2":2.6,"z":0.1,"z2":0.125,"eta":0.093},{"c":2.3,"c2":2.6,"z":0.125,"z2":0.15,"eta":0.113},{"c":2.3,"c2":2.6,"z":0.15,"z2":0.175,"eta":0.134},{"c":2.3,"c2":2.6,"z":0.175,"z2":0.2,"eta":0.154},{"c":2.3,"c2":2.6,"z":0.2,"z2":0.225,"eta":0.175},{"c":2.3,"c2":2.6,"z":0.225,"z2":0.25,"eta":0.196},{"c":2.3,"c2":2.6,"z":0.25,"z2":0.275,"eta":0.216},{"c":2.3,"c2":2.6,"z":0.275,"z2":0.3,"eta":0.237},{"c":2.3,"c2":2.6,"z":0.3,"z2":0.325,"eta":0.257},{"c":2.3,"c2":2.6,"z":0.325,"z2":0.35,"eta":0.278},{"c":2.3,"c2":2.6,"z":0.35,"z2":0.375,"eta":0.298},{"c":2.3,"c2":2.6,"z":0.375,"z2":0.4,"eta":0.319},{"c":2.3,"c2":2.6,"z":0.4,"z2":0.425,"eta":0.34},{"c":2.3,"c2":2.6,"z":0.425,"z2":0.45,"eta":0.36},{"c":2.3,"c2":2.6,"z":0.45,"z2":0.475,"eta":0.381},{"c":2.3,"c2":2.6,"z":0.475,"z2":0.5,"eta":0.401},{"c":2.3,"c2":2.6,"z":0.5,"z2":0.525,"eta":0.422},{"c":2.3,"c2":2.6,"z":0.525,"z2":0.55,"eta":0.443},{"c":2.3,"c2":2.6,"z":0.55,"z2":0.575,"eta":0.463},{"c":2.3,"c2":2.6,"z":0.575,"z2":0.6,"eta":0.484},{"c":2.3,"c2":2.6,"z":0.6,"z2":0.625,"eta":0.504},{"c":2.3,"c2":2.6,"z":0.625,"z2":0.65,"eta":0.525},{"c":2.3,"c2":2.6,"z":0.65,"z2":0.675,"eta":0.546},{"c":2.3,"c2":2.6,"z":0.675,"z2":0.7,"eta":0.566},{"c":2.3,"c2":2.6,"z":0.7,"z2":0.725,"eta":0.587},{"c":2.3,"c2":2.6,"z":0.725,"z2":0.75,"eta":0.607},{"c":2.3,"c2":2.6,"z":0.75,"z2":0.775,"eta":0.628},{"c":2.3,"c2":2.6,"z":0.775,"z2":0.8,"eta":0.648},{"c":2.3,"c2":2.6,"z":0.8,"z2":0.825,"eta":0.669},{"c":2.3,"c2":2.6,"z":0.825,"z2":0.85,"eta":0.69},{"c":2.3,"c2":2.6,"z":0.85,"z2":0.875,"eta":0.71},{"c":2.3,"c2":2.6,"z":0.875,"z2":0.9,"eta":0.731},{"c":2.3,"c2":2.6,"z":0.9,"z2":0.925,"eta":0.751},{"c":2.3,"c2":2.6,"z":0.925,"z2":0.95,"eta":0.772},{"c":2.3,"c2":2.6,"z":0.95,"z2":0.975,"eta":0.793},{"c":2.3,"c2":2.6,"z":0.975,"z2":1,"eta":0.813},
{"c":2.6,"c2":2.9,"z":0,"z2":0.025,"eta":0.01},{"c":2.6,"c2":2.9,"z":0.025,"z2":0.05,"eta":0.029},{"c":2.6,"c2":2.9,"z":0.05,"z2":0.075,"eta":0.049},{"c":2.6,"c2":2.9,"z":0.075,"z2":0.1,"eta":0.068},{"c":2.6,"c2":2.9,"z":0.1,"z2":0.125,"eta":0.088},{"c":2.6,"c2":2.9,"z":0.125,"z2":0.15,"eta":0.108},{"c":2.6,"c2":2.9,"z":0.15,"z2":0.175,"eta":0.127},{"c":2.6,"c2":2.9,"z":0.175,"z2":0.2,"eta":0.147},{"c":2.6,"c2":2.9,"z":0.2,"z2":0.225,"eta":0.166},{"c":2.6,"c2":2.9,"z":0.225,"z2":0.25,"eta":0.186},{"c":2.6,"c2":2.9,"z":0.25,"z2":0.275,"eta":0.205},{"c":2.6,"c2":2.9,"z":0.275,"z2":0.3,"eta":0.225},{"c":2.6,"c2":2.9,"z":0.3,"z2":0.325,"eta":0.244},{"c":2.6,"c2":2.9,"z":0.325,"z2":0.35,"eta":0.264},{"c":2.6,"c2":2.9,"z":0.35,"z2":0.375,"eta":0.284},{"c":2.6,"c2":2.9,"z":0.375,"z2":0.4,"eta":0.303},{"c":2.6,"c2":2.9,"z":0.4,"z2":0.425,"eta":0.323},{"c":2.6,"c2":2.9,"z":0.425,"z2":0.45,"eta":0.342},{"c":2.6,"c2":2.9,"z":0.45,"z2":0.475,"eta":0.362},{"c":2.6,"c2":2.9,"z":0.475,"z2":0.5,"eta":0.381},{"c":2.6,"c2":2.9,"z":0.5,"z2":0.525,"eta":0.401},{"c":2.6,"c2":2.9,"z":0.525,"z2":0.55,"eta":0.42},{"c":2.6,"c2":2.9,"z":0.55,"z2":0.575,"eta":0.44},{"c":2.6,"c2":2.9,"z":0.575,"z2":0.6,"eta":0.46},{"c":2.6,"c2":2.9,"z":0.6,"z2":0.625,"eta":0.479},{"c":2.6,"c2":2.9,"z":0.625,"z2":0.65,"eta":0.499},{"c":2.6,"c2":2.9,"z":0.65,"z2":0.675,"eta":0.518},{"c":2.6,"c2":2.9,"z":0.675,"z2":0.7,"eta":0.538},{"c":2.6,"c2":2.9,"z":0.7,"z2":0.725,"eta":0.557},{"c":2.6,"c2":2.9,"z":0.725,"z2":0.75,"eta":0.577},{"c":2.6,"c2":2.9,"z":0.75,"z2":0.775,"eta":0.596},{"c":2.6,"c2":2.9,"z":0.775,"z2":0.8,"eta":0.616},{"c":2.6,"c2":2.9,"z":0.8,"z2":0.825,"eta":0.636},{"c":2.6,"c2":2.9,"z":0.825,"z2":0.85,"eta":0.655},{"c":2.6,"c2":2.9,"z":0.85,"z2":0.875,"eta":0.675},{"c":2.6,"c2":2.9,"z":0.875,"z2":0.9,"eta":0.694},{"c":2.6,"c2":2.9,"z":0.9,"z2":0.925,"eta":0.714},{"c":2.6,"c2":2.9,"z":0.925,"z2":0.95,"eta":0.733},{"c":2.6,"c2":2.9,"z":0.95,"z2":0.975,"eta":0.753},{"c":2.6,"c2":2.9,"z":0.975,"z2":1,"eta":0.772},
{"c":2.9,"c2":3.2,"z":0,"z2":0.025,"eta":0.009},{"c":2.9,"c2":3.2,"z":0.025,"z2":0.05,"eta":0.028},{"c":2.9,"c2":3.2,"z":0.05,"z2":0.075,"eta":0.046},{"c":2.9,"c2":3.2,"z":0.075,"z2":0.1,"eta":0.065},{"c":2.9,"c2":3.2,"z":0.1,"z2":0.125,"eta":0.084},{"c":2.9,"c2":3.2,"z":0.125,"z2":0.15,"eta":0.102},{"c":2.9,"c2":3.2,"z":0.15,"z2":0.175,"eta":0.121},{"c":2.9,"c2":3.2,"z":0.175,"z2":0.2,"eta":0.139},{"c":2.9,"c2":3.2,"z":0.2,"z2":0.225,"eta":0.158},{"c":2.9,"c2":3.2,"z":0.225,"z2":0.25,"eta":0.177},{"c":2.9,"c2":3.2,"z":0.25,"z2":0.275,"eta":0.195},{"c":2.9,"c2":3.2,"z":0.275,"z2":0.3,"eta":0.214},{"c":2.9,"c2":3.2,"z":0.3,"z2":0.325,"eta":0.232},{"c":2.9,"c2":3.2,"z":0.325,"z2":0.35,"eta":0.251},{"c":2.9,"c2":3.2,"z":0.35,"z2":0.375,"eta":0.27},{"c":2.9,"c2":3.2,"z":0.375,"z2":0.4,"eta":0.288},{"c":2.9,"c2":3.2,"z":0.4,"z2":0.425,"eta":0.307},{"c":2.9,"c2":3.2,"z":0.425,"z2":0.45,"eta":0.325},{"c":2.9,"c2":3.2,"z":0.45,"z2":0.475,"eta":0.344},{"c":2.9,"c2":3.2,"z":0.475,"z2":0.5,"eta":0.363},{"c":2.9,"c2":3.2,"z":0.5,"z2":0.525,"eta":0.381},{"c":2.9,"c2":3.2,"z":0.525,"z2":0.55,"eta":0.4},{"c":2.9,"c2":3.2,"z":0.55,"z2":0.575,"eta":0.418},{"c":2.9,"c2":3.2,"z":0.575,"z2":0.6,"eta":0.437},{"c":2.9,"c2":3.2,"z":0.6,"z2":0.625,"eta":0.456},{"c":2.9,"c2":3.2,"z":0.625,"z2":0.65,"eta":0.474},{"c":2.9,"c2":3.2,"z":0.65,"z2":0.675,"eta":0.493},{"c":2.9,"c2":3.2,"z":0.675,"z2":0.7,"eta":0.511},{"c":2.9,"c2":3.2,"z":0.7,"z2":0.725,"eta":0.53},{"c":2.9,"c2":3.2,"z":0.725,"z2":0.75,"eta":0.549},{"c":2.9,"c2":3.2,"z":0.75,"z2":0.775,"eta":0.567},{"c":2.9,"c2":3.2,"z":0.775,"z2":0.8,"eta":0.586},{"c":2.9,"c2":3.2,"z":0.8,"z2":0.825,"eta":0.604},{"c":2.9,"c2":3.2,"z":0.825,"z2":0.85,"eta":0.623},{"c":2.9,"c2":3.2,"z":0.85,"z2":0.875,"eta":0.642},{"c":2.9,"c2":3.2,"z":0.875,"z2":0.9,"eta":0.66},{"c":2.9,"c2":3.2,"z":0.9,"z2":0.925,"eta":0.679},{"c":2.9,"c2":3.2,"z":0.925,"z2":0.95,"eta":0.697},{"c":2.9,"c2":3.2,"z":0.95,"z2":0.975,"eta":0.716},{"c":2.9,"c2":3.2,"z":0.975,"z2":1,"eta":0.735},
{"c":3.2,"c2":3.5,"z":0,"z2":0.025,"eta":0.009},{"c":3.2,"c2":3.5,"z":0.025,"z2":0.05,"eta":0.027},{"c":3.2,"c2":3.5,"z":0.05,"z2":0.075,"eta":0.044},{"c":3.2,"c2":3.5,"z":0.075,"z2":0.1,"eta":0.062},{"c":3.2,"c2":3.5,"z":0.1,"z2":0.125,"eta":0.08},{"c":3.2,"c2":3.5,"z":0.125,"z2":0.15,"eta":0.097},{"c":3.2,"c2":3.5,"z":0.15,"z2":0.175,"eta":0.115},{"c":3.2,"c2":3.5,"z":0.175,"z2":0.2,"eta":0.133},{"c":3.2,"c2":3.5,"z":0.2,"z2":0.225,"eta":0.15},{"c":3.2,"c2":3.5,"z":0.225,"z2":0.25,"eta":0.168},{"c":3.2,"c2":3.5,"z":0.25,"z2":0.275,"eta":0.186},{"c":3.2,"c2":3.5,"z":0.275,"z2":0.3,"eta":0.204},{"c":3.2,"c2":3.5,"z":0.3,"z2":0.325,"eta":0.221},{"c":3.2,"c2":3.5,"z":0.325,"z2":0.35,"eta":0.239},{"c":3.2,"c2":3.5,"z":0.35,"z2":0.375,"eta":0.257},{"c":3.2,"c2":3.5,"z":0.375,"z2":0.4,"eta":0.274},{"c":3.2,"c2":3.5,"z":0.4,"z2":0.425,"eta":0.292},{"c":3.2,"c2":3.5,"z":0.425,"z2":0.45,"eta":0.31},{"c":3.2,"c2":3.5,"z":0.45,"z2":0.475,"eta":0.327},{"c":3.2,"c2":3.5,"z":0.475,"z2":0.5,"eta":0.345},{"c":3.2,"c2":3.5,"z":0.5,"z2":0.525,"eta":0.363},{"c":3.2,"c2":3.5,"z":0.525,"z2":0.55,"eta":0.381},{"c":3.2,"c2":3.5,"z":0.55,"z2":0.575,"eta":0.398},{"c":3.2,"c2":3.5,"z":0.575,"z2":0.6,"eta":0.416},{"c":3.2,"c2":3.5,"z":0.6,"z2":0.625,"eta":0.434},{"c":3.2,"c2":3.5,"z":0.625,"z2":0.65,"eta":0.451},{"c":3.2,"c2":3.5,"z":0.65,"z2":0.675,"eta":0.469},{"c":3.2,"c2":3.5,"z":0.675,"z2":0.7,"eta":0.487},{"c":3.2,"c2":3.5,"z":0.7,"z2":0.725,"eta":0.505},{"c":3.2,"c2":3.5,"z":0.725,"z2":0.75,"eta":0.522},{"c":3.2,"c2":3.5,"z":0.75,"z2":0.775,"eta":0.54},{"c":3.2,"c2":3.5,"z":0.775,"z2":0.8,"eta":0.558},{"c":3.2,"c2":3.5,"z":0.8,"z2":0.825,"eta":0.575},{"c":3.2,"c2":3.5,"z":0.825,"z2":0.85,"eta":0.593},{"c":3.2,"c2":3.5,"z":0.85,"z2":0.875,"eta":0.611},{"c":3.2,"c2":3.5,"z":0.875,"z2":0.9,"eta":0.628},{"c":3.2,"c2":3.5,"z":0.9,"z2":0.925,"eta":0.646},{"c":3.2,"c2":3.5,"z":0.925,"z2":0.95,"eta":0.664},{"c":3.2,"c2":3.5,"z":0.95,"z2":0.975,"eta":0.682},{"c":3.2,"c2":3.5,"z":0.975,"z2":1,"eta":0.699},
{"c":3.5,"c2":3.8,"z":0,"z2":0.025,"eta":0.008},{"c":3.5,"c2":3.8,"z":0.025,"z2":0.05,"eta":0.025},{"c":3.5,"c2":3.8,"z":0.05,"z2":0.075,"eta":0.042},{"c":3.5,"c2":3.8,"z":0.075,"z2":0.1,"eta":0.059},{"c":3.5,"c2":3.8,"z":0.1,"z2":0.125,"eta":0.076},{"c":3.5,"c2":3.8,"z":0.125,"z2":0.15,"eta":0.093},{"c":3.5,"c2":3.8,"z":0.15,"z2":0.175,"eta":0.11},{"c":3.5,"c2":3.8,"z":0.175,"z2":0.2,"eta":0.127},{"c":3.5,"c2":3.8,"z":0.2,"z2":0.225,"eta":0.143},{"c":3.5,"c2":3.8,"z":0.225,"z2":0.25,"eta":0.16},{"c":3.5,"c2":3.8,"z":0.25,"z2":0.275,"eta":0.177},{"c":3.5,"c2":3.8,"z":0.275,"z2":0.3,"eta":0.194},{"c":3.5,"c2":3.8,"z":0.3,"z2":0.325,"eta":0.211},{"c":3.5,"c2":3.8,"z":0.325,"z2":0.35,"eta":0.228},{"c":3.5,"c2":3.8,"z":0.35,"z2":0.375,"eta":0.245},{"c":3.5,"c2":3.8,"z":0.375,"z2":0.4,"eta":0.262},{"c":3.5,"c2":3.8,"z":0.4,"z2":0.425,"eta":0.279},{"c":3.5,"c2":3.8,"z":0.425,"z2":0.45,"eta":0.295},{"c":3.5,"c2":3.8,"z":0.45,"z2":0.475,"eta":0.312},{"c":3.5,"c2":3.8,"z":0.475,"z2":0.5,"eta":0.329},{"c":3.5,"c2":3.8,"z":0.5,"z2":0.525,"eta":0.346},{"c":3.5,"c2":3.8,"z":0.525,"z2":0.55,"eta":0.363},{"c":3.5,"c2":3.8,"z":0.55,"z2":0.575,"eta":0.38},{"c":3.5,"c2":3.8,"z":0.575,"z2":0.6,"eta":0.397},{"c":3.5,"c2":3.8,"z":0.6,"z2":0.625,"eta":0.414},{"c":3.5,"c2":3.8,"z":0.625,"z2":0.65,"eta":0.43},{"c":3.5,"c2":3.8,"z":0.65,"z2":0.675,"eta":0.447},{"c":3.5,"c2":3.8,"z":0.675,"z2":0.7,"eta":0.464},{"c":3.5,"c2":3.8,"z":0.7,"z2":0.725,"eta":0.481},{"c":3.5,"c2":3.8,"z":0.725,"z2":0.75,"eta":0.498},{"c":3.5,"c2":3.8,"z":0.75,"z2":0.775,"eta":0.515},{"c":3.5,"c2":3.8,"z":0.775,"z2":0.8,"eta":0.532},{"c":3.5,"c2":3.8,"z":0.8,"z2":0.825,"eta":0.549},{"c":3.5,"c2":3.8,"z":0.825,"z2":0.85,"eta":0.565},{"c":3.5,"c2":3.8,"z":0.85,"z2":0.875,"eta":0.582},{"c":3.5,"c2":3.8,"z":0.875,"z2":0.9,"eta":0.599},{"c":3.5,"c2":3.8,"z":0.9,"z2":0.925,"eta":0.616},{"c":3.5,"c2":3.8,"z":0.925,"z2":0.95,"eta":0.633},{"c":3.5,"c2":3.8,"z":0.95,"z2":0.975,"eta":0.65},{"c":3.5,"c2":3.8,"z":0.975,"z2":1,"eta":0.667},
{"c":3.8,"c2":4.1,"z":0,"z2":0.025,"eta":0.008},{"c":3.8,"c2":4.1,"z":0.025,"z2":0.05,"eta":0.024},{"c":3.8,"c2":4.1,"z":0.05,"z2":0.075,"eta":0.04},{"c":3.8,"c2":4.1,"z":0.075,"z2":0.1,"eta":0.056},{"c":3.8,"c2":4.1,"z":0.1,"z2":0.125,"eta":0.073},{"c":3.8,"c2":4.1,"z":0.125,"z2":0.15,"eta":0.089},{"c":3.8,"c2":4.1,"z":0.15,"z2":0.175,"eta":0.105},{"c":3.8,"c2":4.1,"z":0.175,"z2":0.2,"eta":0.121},{"c":3.8,"c2":4.1,"z":0.2,"z2":0.225,"eta":0.137},{"c":3.8,"c2":4.1,"z":0.225,"z2":0.25,"eta":0.153},{"c":3.8,"c2":4.1,"z":0.25,"z2":0.275,"eta":0.169},{"c":3.8,"c2":4.1,"z":0.275,"z2":0.3,"eta":0.185},{"c":3.8,"c2":4.1,"z":0.3,"z2":0.325,"eta":0.201},{"c":3.8,"c2":4.1,"z":0.325,"z2":0.35,"eta":0.218},{"c":3.8,"c2":4.1,"z":0.35,"z2":0.375,"eta":0.234},{"c":3.8,"c2":4.1,"z":0.375,"z2":0.4,"eta":0.25},{"c":3.8,"c2":4.1,"z":0.4,"z2":0.425,"eta":0.266},{"c":3.8,"c2":4.1,"z":0.425,"z2":0.45,"eta":0.282},{"c":3.8,"c2":4.1,"z":0.45,"z2":0.475,"eta":0.298},{"c":3.8,"c2":4.1,"z":0.475,"z2":0.5,"eta":0.314},{"c":3.8,"c2":4.1,"z":0.5,"z2":0.525,"eta":0.33},{"c":3.8,"c2":4.1,"z":0.525,"z2":0.55,"eta":0.347},{"c":3.8,"c2":4.1,"z":0.55,"z2":0.575,"eta":0.363},{"c":3.8,"c2":4.1,"z":0.575,"z2":0.6,"eta":0.379},{"c":3.8,"c2":4.1,"z":0.6,"z2":0.625,"eta":0.395},{"c":3.8,"c2":4.1,"z":0.625,"z2":0.65,"eta":0.411},{"c":3.8,"c2":4.1,"z":0.65,"z2":0.675,"eta":0.427},{"c":3.8,"c2":4.1,"z":0.675,"z2":0.7,"eta":0.443},{"c":3.8,"c2":4.1,"z":0.7,"z2":0.725,"eta":0.459},{"c":3.8,"c2":4.1,"z":0.725,"z2":0.75,"eta":0.476},{"c":3.8,"c2":4.1,"z":0.75,"z2":0.775,"eta":0.492},{"c":3.8,"c2":4.1,"z":0.775,"z2":0.8,"eta":0.508},{"c":3.8,"c2":4.1,"z":0.8,"z2":0.825,"eta":0.524},{"c":3.8,"c2":4.1,"z":0.825,"z2":0.85,"eta":0.54},{"c":3.8,"c2":4.1,"z":0.85,"z2":0.875,"eta":0.556},{"c":3.8,"c2":4.1,"z":0.875,"z2":0.9,"eta":0.572},{"c":3.8,"c2":4.1,"z":0.9,"z2":0.925,"eta":0.588},{"c":3.8,"c2":4.1,"z":0.925,"z2":0.95,"eta":0.604},{"c":3.8,"c2":4.1,"z":0.95,"z2":0.975,"eta":0.621},{"c":3.8,"c2":4.1,"z":0.975,"z2":1,"eta":0.637},
{"c":4.1,"c2":4.4,"z":0,"z2":0.025,"eta":0.008},{"c":4.1,"c2":4.4,"z":0.025,"z2":0.05,"eta":0.023},{"c":4.1,"c2":4.4,"z":0.05,"z2":0.075,"eta":0.039},{"c":4.1,"c2":4.4,"z":0.075,"z2":0.1,"eta":0.054},{"c":4.1,"c2":4.4,"z":0.1,"z2":0.125,"eta":0.069},{"c":4.1,"c2":4.4,"z":0.125,"z2":0.15,"eta":0.085},{"c":4.1,"c2":4.4,"z":0.15,"z2":0.175,"eta":0.1},{"c":4.1,"c2":4.4,"z":0.175,"z2":0.2,"eta":0.116},{"c":4.1,"c2":4.4,"z":0.2,"z2":0.225,"eta":0.131},{"c":4.1,"c2":4.4,"z":0.225,"z2":0.25,"eta":0.146},{"c":4.1,"c2":4.4,"z":0.25,"z2":0.275,"eta":0.162},{"c":4.1,"c2":4.4,"z":0.275,"z2":0.3,"eta":0.177},{"c":4.1,"c2":4.4,"z":0.3,"z2":0.325,"eta":0.193},{"c":4.1,"c2":4.4,"z":0.325,"z2":0.35,"eta":0.208},{"c":4.1,"c2":4.4,"z":0.35,"z2":0.375,"eta":0.224},{"c":4.1,"c2":4.4,"z":0.375,"z2":0.4,"eta":0.239},{"c":4.1,"c2":4.4,"z":0.4,"z2":0.425,"eta":0.254},{"c":4.1,"c2":4.4,"z":0.425,"z2":0.45,"eta":0.27},{"c":4.1,"c2":4.4,"z":0.45,"z2":0.475,"eta":0.285},{"c":4.1,"c2":4.4,"z":0.475,"z2":0.5,"eta":0.301},{"c":4.1,"c2":4.4,"z":0.5,"z2":0.525,"eta":0.316},{"c":4.1,"c2":4.4,"z":0.525,"z2":0.55,"eta":0.332},{"c":4.1,"c2":4.4,"z":0.55,"z2":0.575,"eta":0.347},{"c":4.1,"c2":4.4,"z":0.575,"z2":0.6,"eta":0.362},{"c":4.1,"c2":4.4,"z":0.6,"z2":0.625,"eta":0.378},{"c":4.1,"c2":4.4,"z":0.625,"z2":0.65,"eta":0.393},{"c":4.1,"c2":4.4,"z":0.65,"z2":0.675,"eta":0.409},{"c":4.1,"c2":4.4,"z":0.675,"z2":0.7,"eta":0.424},{"c":4.1,"c2":4.4,"z":0.7,"z2":0.725,"eta":0.439},{"c":4.1,"c2":4.4,"z":0.725,"z2":0.75,"eta":0.455},{"c":4.1,"c2":4.4,"z":0.75,"z2":0.775,"eta":0.47},{"c":4.1,"c2":4.4,"z":0.775,"z2":0.8,"eta":0.486},{"c":4.1,"c2":4.4,"z":0.8,"z2":0.825,"eta":0.501},{"c":4.1,"c2":4.4,"z":0.825,"z2":0.85,"eta":0.517},{"c":4.1,"c2":4.4,"z":0.85,"z2":0.875,"eta":0.532},{"c":4.1,"c2":4.4,"z":0.875,"z2":0.9,"eta":0.547},{"c":4.1,"c2":4.4,"z":0.9,"z2":0.925,"eta":0.563},{"c":4.1,"c2":4.4,"z":0.925,"z2":0.95,"eta":0.578},{"c":4.1,"c2":4.4,"z":0.95,"z2":0.975,"eta":0.594},{"c":4.1,"c2":4.4,"z":0.975,"z2":1,"eta":0.609},
{"c":4.4,"c2":4.7,"z":0,"z2":0.025,"eta":0.007},{"c":4.4,"c2":4.7,"z":0.025,"z2":0.05,"eta":0.022},{"c":4.4,"c2":4.7,"z":0.05,"z2":0.075,"eta":0.037},{"c":4.4,"c2":4.7,"z":0.075,"z2":0.1,"eta":0.052},{"c":4.4,"c2":4.7,"z":0.1,"z2":0.125,"eta":0.066},{"c":4.4,"c2":4.7,"z":0.125,"z2":0.15,"eta":0.081},{"c":4.4,"c2":4.7,"z":0.15,"z2":0.175,"eta":0.096},{"c":4.4,"c2":4.7,"z":0.175,"z2":0.2,"eta":0.111},{"c":4.4,"c2":4.7,"z":0.2,"z2":0.225,"eta":0.126},{"c":4.4,"c2":4.7,"z":0.225,"z2":0.25,"eta":0.14},{"c":4.4,"c2":4.7,"z":0.25,"z2":0.275,"eta":0.155},{"c":4.4,"c2":4.7,"z":0.275,"z2":0.3,"eta":0.17},{"c":4.4,"c2":4.7,"z":0.3,"z2":0.325,"eta":0.185},{"c":4.4,"c2":4.7,"z":0.325,"z2":0.35,"eta":0.199},{"c":4.4,"c2":4.7,"z":0.35,"z2":0.375,"eta":0.214},{"c":4.4,"c2":4.7,"z":0.375,"z2":0.4,"eta":0.229},{"c":4.4,"c2":4.7,"z":0.4,"z2":0.425,"eta":0.244},{"c":4.4,"c2":4.7,"z":0.425,"z2":0.45,"eta":0.259},{"c":4.4,"c2":4.7,"z":0.45,"z2":0.475,"eta":0.273},{"c":4.4,"c2":4.7,"z":0.475,"z2":0.5,"eta":0.288},{"c":4.4,"c2":4.7,"z":0.5,"z2":0.525,"eta":0.303},{"c":4.4,"c2":4.7,"z":0.525,"z2":0.55,"eta":0.318},{"c":4.4,"c2":4.7,"z":0.55,"z2":0.575,"eta":0.332},{"c":4.4,"c2":4.7,"z":0.575,"z2":0.6,"eta":0.347},{"c":4.4,"c2":4.7,"z":0.6,"z2":0.625,"eta":0.362},{"c":4.4,"c2":4.7,"z":0.625,"z2":0.65,"eta":0.377},{"c":4.4,"c2":4.7,"z":0.65,"z2":0.675,"eta":0.391},{"c":4.4,"c2":4.7,"z":0.675,"z2":0.7,"eta":0.406},{"c":4.4,"c2":4.7,"z":0.7,"z2":0.725,"eta":0.421},{"c":4.4,"c2":4.7,"z":0.725,"z2":0.75,"eta":0.436},{"c":4.4,"c2":4.7,"z":0.75,"z2":0.775,"eta":0.451},{"c":4.4,"c2":4.7,"z":0.775,"z2":0.8,"eta":0.465},{"c":4.4,"c2":4.7,"z":0.8,"z2":0.825,"eta":0.48},{"c":4.4,"c2":4.7,"z":0.825,"z2":0.85,"eta":0.495},{"c":4.4,"c2":4.7,"z":0.85,"z2":0.875,"eta":0.51},{"c":4.4,"c2":4.7,"z":0.875,"z2":0.9,"eta":0.524},{"c":4.4,"c2":4.7,"z":0.9,"z2":0.925,"eta":0.539},{"c":4.4,"c2":4.7,"z":0.925,"z2":0.95,"eta":0.554},{"c":4.4,"c2":4.7,"z":0.95,"z2":0.975,"eta":0.569},{"c":4.4,"c2":4.7,"z":0.975,"z2":1,"eta":0.584},
{"c":4.7,"c2":5,"z":0,"z2":0.025,"eta":0.007},{"c":4.7,"c2":5,"z":0.025,"z2":0.05,"eta":0.021},{"c":4.7,"c2":5,"z":0.05,"z2":0.075,"eta":0.035},{"c":4.7,"c2":5,"z":0.075,"z2":0.1,"eta":0.05},{"c":4.7,"c2":5,"z":0.1,"z2":0.125,"eta":0.064},{"c":4.7,"c2":5,"z":0.125,"z2":0.15,"eta":0.078},{"c":4.7,"c2":5,"z":0.15,"z2":0.175,"eta":0.092},{"c":4.7,"c2":5,"z":0.175,"z2":0.2,"eta":0.106},{"c":4.7,"c2":5,"z":0.2,"z2":0.225,"eta":0.12},{"c":4.7,"c2":5,"z":0.225,"z2":0.25,"eta":0.135},{"c":4.7,"c2":5,"z":0.25,"z2":0.275,"eta":0.149},{"c":4.7,"c2":5,"z":0.275,"z2":0.3,"eta":0.163},{"c":4.7,"c2":5,"z":0.3,"z2":0.325,"eta":0.177},{"c":4.7,"c2":5,"z":0.325,"z2":0.35,"eta":0.191},{"c":4.7,"c2":5,"z":0.35,"z2":0.375,"eta":0.206},{"c":4.7,"c2":5,"z":0.375,"z2":0.4,"eta":0.22},{"c":4.7,"c2":5,"z":0.4,"z2":0.425,"eta":0.234},{"c":4.7,"c2":5,"z":0.425,"z2":0.45,"eta":0.248},{"c":4.7,"c2":5,"z":0.45,"z2":0.475,"eta":0.262},{"c":4.7,"c2":5,"z":0.475,"z2":0.5,"eta":0.276},{"c":4.7,"c2":5,"z":0.5,"z2":0.525,"eta":0.291},{"c":4.7,"c2":5,"z":0.525,"z2":0.55,"eta":0.305},{"c":4.7,"c2":5,"z":0.55,"z2":0.575,"eta":0.319},{"c":4.7,"c2":5,"z":0.575,"z2":0.6,"eta":0.333},{"c":4.7,"c2":5,"z":0.6,"z2":0.625,"eta":0.347},{"c":4.7,"c2":5,"z":0.625,"z2":0.65,"eta":0.361},{"c":4.7,"c2":5,"z":0.65,"z2":0.675,"eta":0.376},{"c":4.7,"c2":5,"z":0.675,"z2":0.7,"eta":0.39},{"c":4.7,"c2":5,"z":0.7,"z2":0.725,"eta":0.404},{"c":4.7,"c2":5,"z":0.725,"z2":0.75,"eta":0.418},{"c":4.7,"c2":5,"z":0.75,"z2":0.775,"eta":0.432},{"c":4.7,"c2":5,"z":0.775,"z2":0.8,"eta":0.446},{"c":4.7,"c2":5,"z":0.8,"z2":0.825,"eta":0.461},{"c":4.7,"c2":5,"z":0.825,"z2":0.85,"eta":0.475},{"c":4.7,"c2":5,"z":0.85,"z2":0.875,"eta":0.489},{"c":4.7,"c2":5,"z":0.875,"z2":0.9,"eta":0.503},{"c":4.7,"c2":5,"z":0.9,"z2":0.925,"eta":0.517},{"c":4.7,"c2":5,"z":0.925,"z2":0.95,"eta":0.532},{"c":4.7,"c2":5,"z":0.95,"z2":0.975,"eta":0.546},{"c":4.7,"c2":5,"z":0.975,"z2":1,"eta":0.56}
    ],
    "contour": [
{"c":0.292,"z":1},{"c":0.3,"z":0.986},{"c":0.325,"z":0.945},{"c":0.35,"z":0.911},{"c":0.4,"z":0.858},{"c":0.45,"z":0.818},{"c":0.5,"z":0.788},{"c":0.6,"z":0.747},{"c":0.7,"z":0.723},{"c":0.8,"z":0.709},{"c":0.9,"z":0.702},{"c":1,"z":0.7},{"c":1.2,"z":0.706},{"c":1.5,"z":0.729},{"c":1.75,"z":0.756},{"c":2,"z":0.788},{"c":2.25,"z":0.822},{"c":2.5,"z":0.858},{"c":2.75,"z":0.895},{"c":3,"z":0.933},{"c":3.2,"z":0.965},{"c":3.42,"z":1}
    ]
  },
  "layer": [
    {
      "data": {"name": "grid"},
      "mark": {"type": "rect", "strokeWidth": 0.6, "stroke": {"expr": "scale('color', datum.eta)"}},
      "encoding": {
        "x": {"field": "c", "type": "quantitative", "scale": {"domain": [0, 5], "nice": false, "zero": false},
              "axis": {"orient": "bottom", "values": [0, 0.5, 1, 1.5, 2, 2.5, 3, 3.5, 4, 4.5, 5], "format": "~g", "labelPadding": 9, "title": "Cooperativity C", "titleFontSize": 26, "titlePadding": 4}},
        "x2": {"field": "c2"},
        "y": {"field": "z", "type": "quantitative", "scale": {"domain": [0, 1], "nice": false, "zero": false},
              "axis": {"orient": "left", "values": [0, 0.1, 0.2, 0.3, 0.4, 0.5, 0.6, 0.7, 0.8, 0.9, 1], "format": "~g", "labelPadding": 9, "title": "Extraction ratios ζₒζₘ", "titleFontSize": 28, "titlePadding": 8}},
        "y2": {"field": "z2"},
        "color": {"field": "eta", "type": "quantitative",
                  "scale": {"domain": [0, 0.125, 0.375, 0.625, 0.875, 1], "range": ["#000084", "#0000ff", "#00ffff", "#ffff00", "#ff0000", "#800000"], "interpolate": "rgb"},
                  "legend": {"type": "gradient", "direction": "vertical", "title": null, "orient": "right", "offset": 12, "gradientLength": 405, "gradientThickness": 21, "values": [0, 0.1, 0.2, 0.3, 0.4, 0.5, 0.6, 0.7, 0.8, 0.9, 1], "format": "~g", "labelOffset": 5, "labelBaseline": "middle", "labelOverlap": false, "gradientStrokeColor": "#444", "gradientStrokeWidth": 0.6, "padding": 0}}
      }
    },
    {
      "data": {"name": "contour"},
      "mark": {"type": "line", "color": "black", "strokeWidth": 2.4, "strokeDash": [8, 6], "interpolate": "monotone"},
      "encoding": {
        "x": {"field": "c", "type": "quantitative", "axis": {"orient": "top", "values": [0, 0.5, 1, 1.5, 2, 2.5, 3, 3.5, 4, 4.5, 5], "labels": false, "title": null}},
        "y": {"field": "z", "type": "quantitative", "axis": {"orient": "right", "values": [0, 0.1, 0.2, 0.3, 0.4, 0.5, 0.6, 0.7, 0.8, 0.9, 1], "labels": false, "title": null}}
      }
    }
  ],
  "resolve": {"axis": {"x": "independent", "y": "independent"}}
}
